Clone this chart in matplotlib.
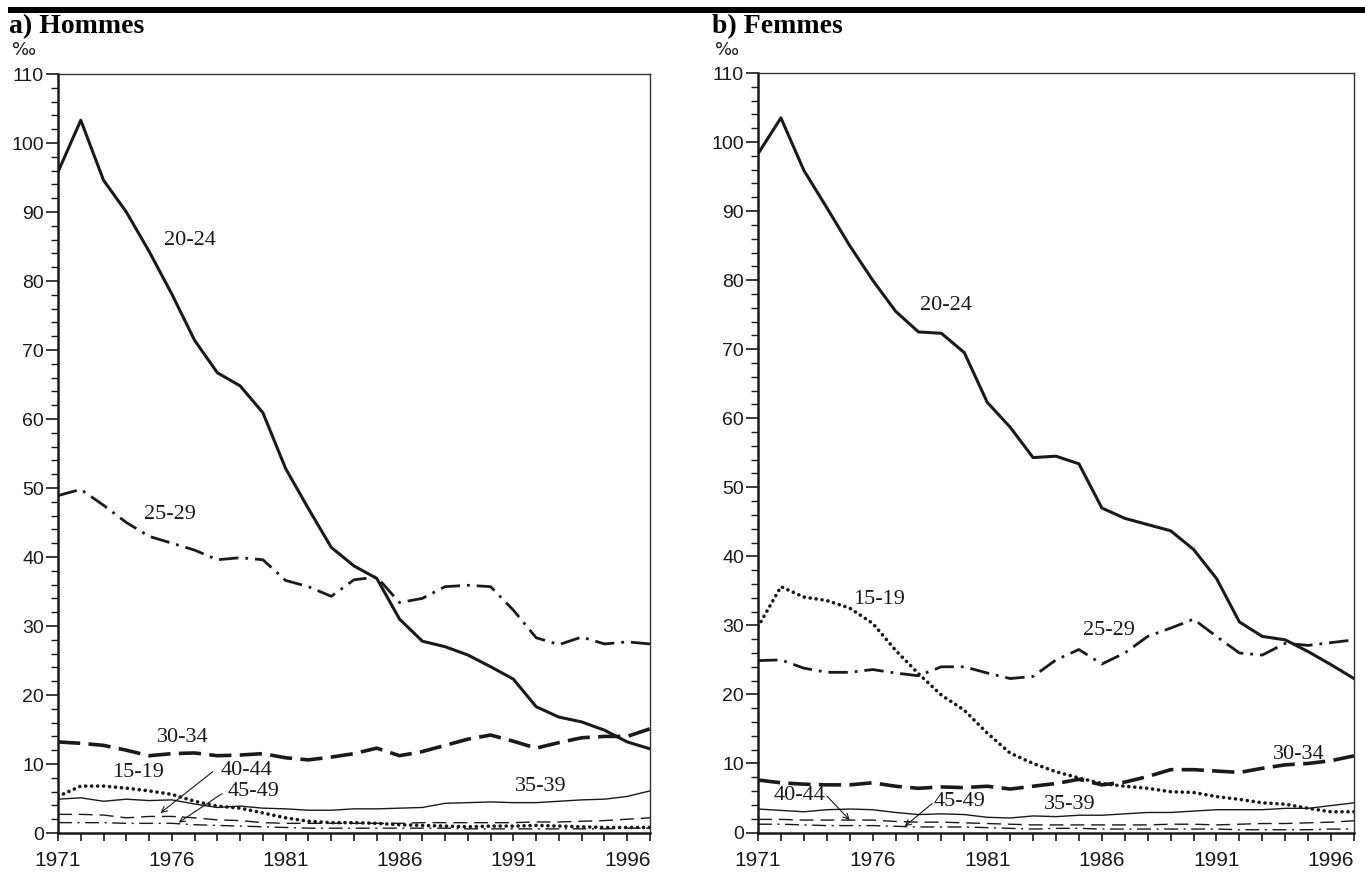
import numpy as np
import matplotlib
matplotlib.use("Agg")
import matplotlib.pyplot as plt
from matplotlib.patches import Rectangle
from matplotlib.ticker import MultipleLocator

plt.rcParams['lines.scale_dashes'] = False

###### DATA ##########
years = list(range(1971, 1998))
year_ticks = [1971, 1976, 1981, 1986, 1991, 1996]
age_groups = ["15-19", "20-24", "25-29", "30-34", "35-39", "40-44", "45-49"]

# a) Hommes
h_15_19 = [5.3, 6.8, 6.8, 6.5, 6.1, 5.6, 4.6, 3.9, 3.6, 2.9, 2.2, 1.7, 1.5, 1.5,
           1.4, 1.2, 1.1, 1.0, 0.9, 1.0, 1.0, 1.1, 1.0, 0.9, 0.8, 0.8, 0.8]
h_20_24 = [95.8, 103.3, 94.6, 90.0, 84.3, 78.1, 71.4, 66.7, 64.8, 60.9, 52.8, 47.0,
           41.4, 38.7, 36.9, 31.0, 27.8, 27.0, 25.8, 24.1, 22.3, 18.3, 16.8, 16.1,
           14.9, 13.2, 12.2]
h_25_29 = [48.9, 49.8, 47.5, 45.0, 43.0, 42.0, 41.0, 39.6, 39.9, 39.6, 36.6, 35.7,
           34.3, 36.7, 37.1, 33.4, 34.0, 35.7, 35.9, 35.7, 32.3, 28.3, 27.3, 28.4,
           27.4, 27.7, 27.4]
h_30_34 = [13.2, 13.0, 12.7, 12.0, 11.2, 11.5, 11.6, 11.2, 11.3, 11.5, 10.9, 10.6,
           11.0, 11.5, 12.3, 11.2, 11.8, 12.7, 13.6, 14.2, 13.3, 12.3, 13.1, 13.8,
           14.0, 14.0, 15.1]
h_35_39 = [4.9, 5.1, 4.6, 4.9, 4.7, 4.8, 4.2, 3.7, 3.9, 3.6, 3.5, 3.3, 3.3, 3.5,
           3.5, 3.6, 3.7, 4.3, 4.4, 4.5, 4.4, 4.4, 4.6, 4.8, 4.9, 5.3, 6.1]
h_40_44 = [2.7, 2.7, 2.6, 2.2, 2.4, 2.4, 2.2, 1.9, 1.8, 1.5, 1.4, 1.4, 1.4, 1.4,
           1.4, 1.4, 1.5, 1.5, 1.5, 1.5, 1.5, 1.6, 1.6, 1.7, 1.8, 2.0, 2.2]
h_45_49 = [1.5, 1.5, 1.5, 1.4, 1.4, 1.4, 1.2, 1.1, 1.0, 0.9, 0.8, 0.7, 0.7, 0.7,
           0.7, 0.7, 0.7, 0.7, 0.6, 0.6, 0.6, 0.6, 0.6, 0.6, 0.6, 0.7, 0.7]

# b) Femmes
f_15_19 = [29.8, 35.6, 34.1, 33.6, 32.5, 30.3, 26.4, 23.0, 19.9, 17.7, 14.4, 11.5,
           10.0, 8.8, 7.9, 7.1, 6.7, 6.4, 5.9, 5.8, 5.2, 4.8, 4.3, 4.1, 3.5, 3.0, 3.0]
f_20_24 = [98.3, 103.5, 95.9, 90.5, 85.0, 80.0, 75.5, 72.5, 72.3, 69.5, 62.3, 58.7,
           54.3, 54.5, 53.4, 47.0, 45.5, 44.6, 43.7, 41.0, 36.8, 30.5, 28.4, 27.9,
           26.2, 24.3, 22.3]
f_25_29 = [24.9, 25.0, 23.8, 23.2, 23.2, 23.6, 23.1, 22.7, 24.0, 24.0, 23.1, 22.3,
           22.6, 25.0, 26.5, 24.4, 26.0, 28.4, 29.6, 30.9, 28.4, 26.0, 25.7, 27.4,
           27.1, 27.5, 27.9]
f_30_34 = [7.6, 7.2, 7.0, 6.9, 6.9, 7.2, 6.7, 6.4, 6.6, 6.5, 6.7, 6.3, 6.7, 7.1,
           7.7, 6.9, 7.3, 8.1, 9.1, 9.1, 8.9, 8.7, 9.3, 9.8, 10.0, 10.4, 11.1]
f_35_39 = [3.4, 3.2, 3.0, 3.3, 3.4, 3.3, 2.9, 2.6, 2.7, 2.6, 2.2, 2.1, 2.4, 2.3,
           2.5, 2.5, 2.7, 2.9, 2.9, 3.1, 3.3, 3.3, 3.3, 3.5, 3.5, 3.9, 4.3]
f_40_44 = [1.9, 1.9, 1.8, 1.8, 1.8, 1.8, 1.6, 1.5, 1.5, 1.4, 1.3, 1.2, 1.1, 1.1,
           1.1, 1.1, 1.1, 1.1, 1.2, 1.2, 1.1, 1.2, 1.3, 1.3, 1.4, 1.5, 1.7]
f_45_49 = [1.2, 1.2, 1.1, 1.0, 1.0, 1.0, 0.9, 0.8, 0.8, 0.8, 0.7, 0.6, 0.5, 0.6,
           0.6, 0.5, 0.5, 0.5, 0.5, 0.5, 0.5, 0.4, 0.4, 0.4, 0.4, 0.5, 0.5]

hommes = [h_15_19, h_20_24, h_25_29, h_30_34, h_35_39, h_40_44, h_45_49]
femmes = [f_15_19, f_20_24, f_25_29, f_30_34, f_35_39, f_40_44, f_45_49]

# label positions (year, value) for each age group, per panel
h_label_pos = {"20-24": (1976.8, 85.9), "25-29": (1975.9, 46.1), "30-34": (1976.5, 13.8),
               "15-19": (1974.5, 8.7), "35-39": (1992.2, 6.8)}
f_label_pos = {"20-24": (1979.2, 76.3), "15-19": (1976.3, 33.8), "25-29": (1986.3, 29.2),
               "30-34": (1994.6, 11.3), "35-39": (1984.6, 4.1)}
# arrow labels: text position, arrow start, arrow tip
h_arrows = {"40-44": ((1979.3, 9.1), (1977.8, 8.9), (1975.5, 2.9)),
            "45-49": ((1979.6, 6.0), (1978.2, 5.7), (1976.3, 1.5))}
f_arrows = {"40-44": ((1972.8, 5.3), (1974.0, 5.3), (1975.0, 1.8)),
            "45-49": ((1979.8, 4.5), (1978.6, 4.2), (1977.4, 0.9))}
########################

INK = '#1a1a1a'
styles = {
    "15-19": dict(lw=2.6, linestyle=(0, (0.1, 4.2)), dash_capstyle='round'),
    "20-24": dict(lw=2.2, linestyle='-'),
    "25-29": dict(lw=2.0, linestyle=(0, (14, 5, 2, 5))),
    "30-34": dict(lw=2.6, linestyle=(0, (16, 6))),
    "35-39": dict(lw=1.0, linestyle='-'),
    "40-44": dict(lw=1.0, linestyle=(0, (10, 5))),
    "45-49": dict(lw=1.0, linestyle=(0, (10, 4, 1.5, 4))),
}

W, H = 1365, 872
fig = plt.figure(figsize=(W / 100, H / 100), dpi=100)

# thick rule across the top
fig.patches.append(Rectangle((8 / W, 1 - 13 / H), 1 - 8 / W, 6 / H,
                             transform=fig.transFigure, color='black', lw=0))

panels = [
    ("a) Hommes", hommes, h_label_pos, h_arrows, [58, 74, 650, 833], 9),
    ("b) Femmes", femmes, f_label_pos, f_arrows, [758, 73, 1354, 832.5], 712),
]

serif = 'Liberation Serif'
for title, series, label_pos, arrows, box, title_x in panels:
    x0, y0, x1, y1 = box
    ax = fig.add_axes([x0 / W, 1 - y1 / H, (x1 - x0) / W, (y1 - y0) / H])
    for grp, vals in zip(age_groups, series):
        ax.plot(years, vals, color=INK, **styles[grp])

    ax.set_xlim(1971, 1997)
    ax.set_ylim(0, 110)
    ax.set_xticks(year_ticks)
    ax.xaxis.set_minor_locator(MultipleLocator(1))
    ax.yaxis.set_major_locator(MultipleLocator(10))
    ax.yaxis.set_minor_locator(MultipleLocator(2))
    ax.tick_params(axis='y', which='major', direction='out', length=9, width=1.2,
                   labelsize=14, colors=INK, pad=1)
    ax.tick_params(axis='y', which='minor', direction='out', length=5, width=1.0, colors=INK)
    ax.tick_params(axis='x', which='both', direction='out', length=6, width=1.2,
                   labelsize=15, colors=INK, pad=7)
    for lab in ax.get_xticklabels() + ax.get_yticklabels():
        lab.set_fontfamily('Liberation Sans')
    for side in ['left', 'bottom']:
        ax.spines[side].set_linewidth(1.8)
        ax.spines[side].set_color(INK)
    for side in ['top', 'right']:
        ax.spines[side].set_linewidth(1.0)
        ax.spines[side].set_color('#333333')

    for grp, (xt, yt) in label_pos.items():
        ax.text(xt, yt, grp, ha='center', va='center', fontsize=16,
                family=serif, color=INK)
    for grp, ((xt, yt), (xs, ys), (xa, ya)) in arrows.items():
        ax.text(xt, yt, grp, ha='center', va='center', fontsize=16,
                family=serif, color=INK)
        ax.annotate('', xy=(xa, ya), xytext=(xs, ys),
                    arrowprops=dict(arrowstyle='->', lw=0.8, color=INK,
                                    shrinkA=0, shrinkB=0))

    fig.text(title_x / W, 1 - 33 / H, title, fontsize=20, fontweight='bold',
             family=serif, ha='left', va='baseline', color='black')
    fig.text((title_x + 15) / W, 1 - 50 / H, '‰', fontsize=13, family='DejaVu Sans',
             ha='center', va='center', color=INK)

fig.savefig('out.png', dpi=100)
